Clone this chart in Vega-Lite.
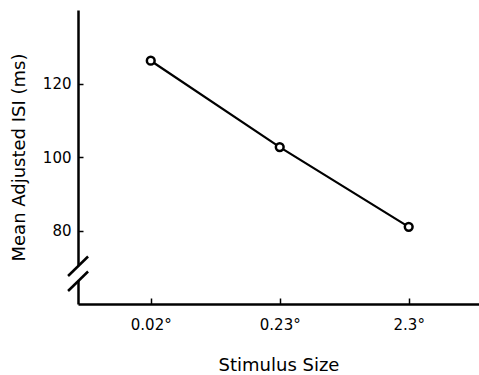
{
  "$schema": "https://vega.github.io/schema/vega-lite/v6.json",
  "width": 401,
  "height": 294,
  "autosize": {"type": "none"},
  "padding": {"left": 78, "top": 10, "right": 0, "bottom": 71},
  "background": "white",
  "config": {
    "view": {"stroke": null},
    "font": "DejaVu Sans",
    "axis": {
      "grid": false,
      "domainColor": "black",
      "domainWidth": 2.5,
      "tickColor": "black",
      "tickWidth": 1.5,
      "labelColor": "black",
      "titleColor": "black",
      "labelFont": "DejaVu Sans",
      "titleFont": "DejaVu Sans",
      "titleFontWeight": "normal",
      "labelFontSize": 15,
      "titleFontSize": 18
    }
  },
  "datasets": {
    "main": [
      {"size": "0.02°", "idx": 1, "isi": 126.2},
      {"size": "0.23°", "idx": 2, "isi": 102.7},
      {"size": "2.3°", "idx": 3, "isi": 81.0}
    ],
    "gap": [
      {"x": 0.436, "y": 66.3, "y2": 70.3}
    ],
    "breaks": [
      {"x": 0.359, "x2": 0.514, "y": 67.62, "y2": 72.93},
      {"x": 0.359, "x2": 0.514, "y": 63.54, "y2": 68.84}
    ]
  },
  "layer": [
    {
      "data": {"name": "main"},
      "mark": {"type": "line", "color": "black", "strokeWidth": 2.2},
      "encoding": {
        "x": {
          "field": "idx",
          "type": "quantitative",
          "scale": {"domain": [0.436, 3.545], "nice": false, "zero": false},
          "axis": {
            "values": [1, 2, 3],
            "labelExpr": "datum.value == 1 ? '0.02°' : datum.value == 2 ? '0.23°' : '2.3°'",
            "tickSize": -6,
            "labelPadding": 19,
            "labelFontSize": 15,
            "title": "Stimulus Size",
            "titleFontSize": 18,
            "titlePadding": 24
          }
        },
        "y": {
          "field": "isi",
          "type": "quantitative",
          "scale": {"domain": [60, 140], "nice": false, "zero": false},
          "axis": {
            "values": [80, 100, 120],
            "tickSize": -5,
            "labelPadding": 12,
            "labelFontSize": 15,
            "title": "Mean Adjusted ISI (ms)",
            "titleFontSize": 18,
            "titlePadding": 14
          }
        }
      }
    },
    {
      "data": {"name": "main"},
      "mark": {"type": "point", "shape": "circle", "filled": true, "fill": "white", "stroke": "black", "strokeWidth": 2.5, "size": 60, "opacity": 1},
      "encoding": {
        "x": {"field": "idx", "type": "quantitative"},
        "y": {"field": "isi", "type": "quantitative"}
      }
    },
    {
      "data": {"name": "gap"},
      "mark": {"type": "rule", "color": "white", "strokeWidth": 5},
      "encoding": {
        "x": {"field": "x", "type": "quantitative"},
        "y": {"field": "y", "type": "quantitative"},
        "y2": {"field": "y2"}
      }
    },
    {
      "data": {"name": "breaks"},
      "mark": {"type": "rule", "color": "black", "strokeWidth": 2.5},
      "encoding": {
        "x": {"field": "x", "type": "quantitative"},
        "x2": {"field": "x2"},
        "y": {"field": "y", "type": "quantitative"},
        "y2": {"field": "y2"}
      }
    }
  ]
}
